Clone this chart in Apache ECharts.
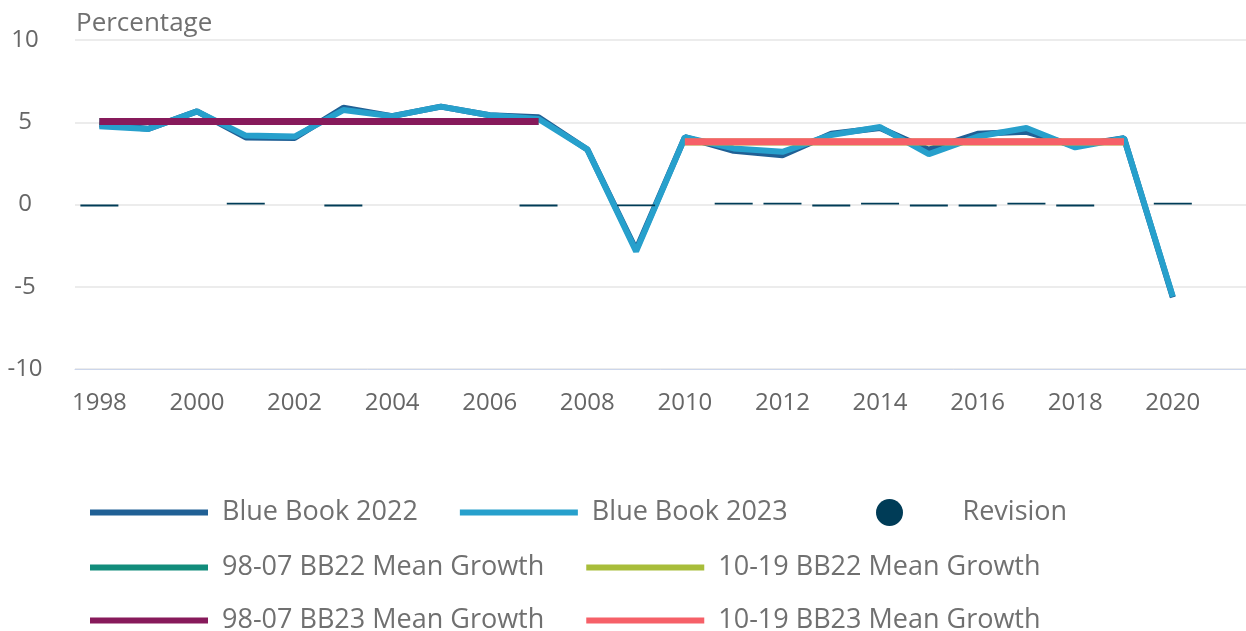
<!DOCTYPE html>
<html>
<head>
<meta charset="utf-8">
<script src="https://cdn.jsdelivr.net/npm/echarts@6/dist/echarts.min.js"></script>
<style>
html,body{margin:0;padding:0;background:#fff;}
#chart{width:1246px;height:631px;}
</style>
</head>
<body>
<div id="chart"></div>
<script>
const years = ['1998','1999','2000','2001','2002','2003','2004','2005','2006','2007','2008','2009','2010','2011','2012','2013','2014','2015','2016','2017','2018','2019','2020','2021'];
const blueBook2022 = [4.87,4.6,5.66,4.08,4.05,5.88,5.37,5.95,5.43,5.3,3.35,-2.75,4.09,3.26,3.0,4.3,4.65,3.33,4.3,4.42,3.57,4.03,-5.65,null];
const blueBook2023 = [4.75,4.59,5.66,4.19,4.13,5.74,5.37,5.95,5.43,5.2,3.35,-2.85,4.09,3.41,3.2,4.23,4.71,3.06,4.13,4.65,3.47,4.03,-5.6,null];
const revision = [-0.12,null,null,0.1,null,-0.12,null,null,null,-0.12,null,-0.1,null,0.1,0.1,-0.12,0.1,-0.12,-0.12,0.1,-0.12,null,0.1,null];
const mean9807BB22 = [5.05,5.05,5.05,5.05,5.05,5.05,5.05,5.05,5.05,5.05,null,null,null,null,null,null,null,null,null,null,null,null,null,null];
const mean1019BB22 = [null,null,null,null,null,null,null,null,null,null,null,null,3.8,3.8,3.8,3.8,3.8,3.8,3.8,3.8,3.8,3.8,null,null];
const mean9807BB23 = [5.04,5.04,5.04,5.04,5.04,5.04,5.04,5.04,5.04,5.04,null,null,null,null,null,null,null,null,null,null,null,null,null,null];
const mean1019BB23 = [null,null,null,null,null,null,null,null,null,null,null,null,3.82,3.82,3.82,3.82,3.82,3.82,3.82,3.82,3.82,3.82,null,null];

const FONT = "'Open Sans', 'Noto Sans', sans-serif";
const LINE_ICON = 'path://M0,0L118,0L118,6L0,6Z';
const chart = echarts.init(document.getElementById('chart'));
const legendBase = {
  orient: 'horizontal', left: 90, padding: 0, itemWidth: 118, itemHeight: 27, itemGap: 42,
  textStyle: { fontFamily: FONT, fontSize: 27, color: '#707070', padding: [0, 0, 0, 9] },
  selectedMode: false
};
chart.setOption({
  animation: false,
  title: { text: 'Percentage', left: 71, top: 6, textStyle: { fontFamily: FONT, fontSize: 26, fontWeight: 'normal', color: '#707070' } },
  grid: { left: 75, right: 0, top: 40, bottom: 262 },
  legend: [
    Object.assign({}, legendBase, { top: 499, data: [{name:'Blue Book 2022', icon: LINE_ICON},{name:'Blue Book 2023', icon: LINE_ICON}] }),
    Object.assign({}, legendBase, { top: 499, left: 876, data: [{name:'Revision', icon:'circle'}] }),
    Object.assign({}, legendBase, { top: 554, data: [{name:'98-07 BB22 Mean Growth', icon: LINE_ICON},{name:'10-19 BB22 Mean Growth', icon: LINE_ICON}] }),
    Object.assign({}, legendBase, { top: 607, data: [{name:'98-07 BB23 Mean Growth', icon: LINE_ICON},{name:'10-19 BB23 Mean Growth', icon: LINE_ICON}] })
  ],
  xAxis: {
    type: 'category', data: years, boundaryGap: true,
    axisLine: { onZero: false, lineStyle: { color: '#ccd6eb', width: 1 } },
    axisTick: { alignWithLabel: true, interval: 1, length: 10, lineStyle: { color: '#ccd6eb' } },
    axisLabel: { interval: 1, fontFamily: FONT, fontSize: 24, color: '#666666', margin: 22 },
    splitLine: { show: false }
  },
  yAxis: {
    type: 'value', min: -10, max: 10, interval: 5,
    axisLine: { show: false }, axisTick: { show: false },
    axisLabel: { fontFamily: FONT, fontSize: 24, color: '#666666', align: 'center', margin: 50 },
    splitLine: { lineStyle: { color: '#e6e6e6', width: 1.5 } }
  },
  series: [
    { name: 'Blue Book 2022', type: 'line', data: blueBook2022, symbol: 'none', showSymbol: false, z: 2,
      lineStyle: { color: '#206095', width: 6 }, itemStyle: { color: '#206095' } },
    { name: 'Blue Book 2023', type: 'line', data: blueBook2023, symbol: 'none', showSymbol: false, z: 3,
      lineStyle: { color: '#27a0cc', width: 6 }, itemStyle: { color: '#27a0cc' } },
    { name: 'Revision', type: 'bar', data: revision, barWidth: 38, z: 4,
      itemStyle: { color: '#003c57' } },
    { name: '98-07 BB22 Mean Growth', type: 'line', data: mean9807BB22, symbol: 'none', showSymbol: false, z: 5,
      lineStyle: { color: '#118c7b', width: 7 }, itemStyle: { color: '#118c7b' } },
    { name: '10-19 BB22 Mean Growth', type: 'line', data: mean1019BB22, symbol: 'none', showSymbol: false, z: 5,
      lineStyle: { color: '#a8bd3a', width: 7 }, itemStyle: { color: '#a8bd3a' } },
    { name: '98-07 BB23 Mean Growth', type: 'line', data: mean9807BB23, symbol: 'none', showSymbol: false, z: 6,
      lineStyle: { color: '#871a5b', width: 7 }, itemStyle: { color: '#871a5b' } },
    { name: '10-19 BB23 Mean Growth', type: 'line', data: mean1019BB23, symbol: 'none', showSymbol: false, z: 6,
      lineStyle: { color: '#f66068', width: 7 }, itemStyle: { color: '#f66068' } }
  ]
});
</script>
</body>
</html>
